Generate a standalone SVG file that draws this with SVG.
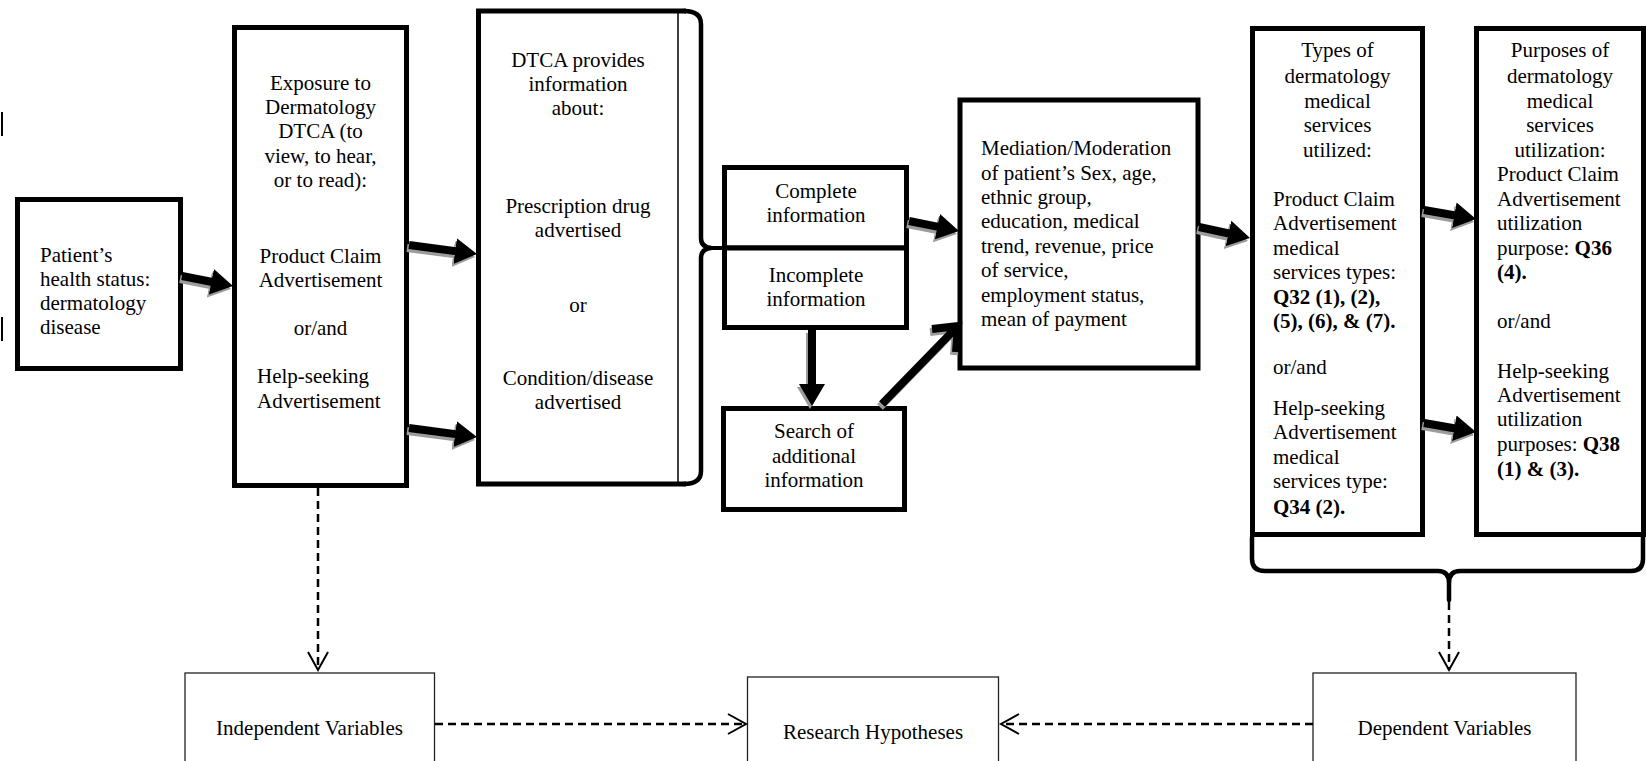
<svg xmlns="http://www.w3.org/2000/svg" width="1646" height="761" viewBox="0 0 1646 761">
<style>
.box{fill:#fff;stroke:#000;stroke-width:5}
.thin{fill:#fff;stroke:#222;stroke-width:1.3}
text{font-family:"Liberation Serif","Times New Roman",serif;font-size:21px;fill:#000}
.c{text-anchor:middle}
.b{font-weight:bold}
.arr{stroke:#000;stroke-width:8;fill:none;marker-end:url(#head)}
.sh{stroke:#9c9c9c;stroke-width:8;fill:none;marker-end:url(#headg)}
.dash{stroke:#000;stroke-width:2.5;fill:none;stroke-dasharray:8 5;marker-end:url(#open)}
.brk{stroke:#000;stroke-width:4.5;fill:none;stroke-linecap:round;stroke-linejoin:round}
</style>
<defs>
<marker id="head" markerUnits="userSpaceOnUse" markerWidth="22" markerHeight="26" viewBox="0 0 22 26" refX="10" refY="13" orient="auto"><path d="M0,0 L22,13 L0,26 z" fill="#000"/></marker>
<marker id="headg" markerUnits="userSpaceOnUse" markerWidth="22" markerHeight="26" viewBox="0 0 22 26" refX="10" refY="13" orient="auto"><path d="M0,0 L22,13 L0,26 z" fill="#9c9c9c"/></marker>
<marker id="open" markerUnits="userSpaceOnUse" markerWidth="24" markerHeight="28" viewBox="-3 -3 24 28" refX="18" refY="10" orient="auto"><path d="M0,0 L18,10 L0,20" fill="none" stroke="#000" stroke-width="2"/></marker>
</defs>

<g id="stray-marks">
<line x1="2" y1="112" x2="2" y2="136" stroke="#000" stroke-width="2"/>
<line x1="2" y1="317" x2="2" y2="341" stroke="#000" stroke-width="2"/>
</g>

<g id="patient">
<rect class="box" x="17.5" y="199.5" width="163" height="169"/>
<text x="40" y="262">Patient’s</text>
<text x="40" y="286">health status:</text>
<text x="40" y="310">dermatology</text>
<text x="40" y="334">disease</text>
</g>

<g id="exposure">
<rect class="box" x="234.5" y="27.5" width="172" height="458"/>
<text class="c" x="320.5" y="90">Exposure to</text>
<text class="c" x="320.5" y="114">Dermatology</text>
<text class="c" x="320.5" y="138">DTCA (to</text>
<text class="c" x="320.5" y="163">view, to hear,</text>
<text class="c" x="320.5" y="187">or to read):</text>
<text class="c" x="320.5" y="263">Product Claim</text>
<text class="c" x="320.5" y="287">Advertisement</text>
<text class="c" x="320.5" y="335">or/and</text>
<text x="257" y="383">Help-seeking</text>
<text x="257" y="408">Advertisement</text>
</g>

<g id="dtca">
<rect x="478.5" y="11" width="200" height="473" fill="#fff" stroke="none"/>
<path d="M686,11 L478.5,11 L478.5,484 L686,484" fill="none" stroke="#000" stroke-width="5"/>
<line x1="678" y1="11" x2="678" y2="484" stroke="#000" stroke-width="1.5"/>
<path class="brk" d="M684,11 Q701,11 701,24 L701,238 Q701,247 711,248 Q701,249 701,258 L701,471 Q701,484 684,484"/>
<line x1="704" y1="248" x2="726" y2="248" stroke="#000" stroke-width="4"/>
<text class="c" x="578" y="67">DTCA provides</text>
<text class="c" x="578" y="91">information</text>
<text class="c" x="578" y="115">about:</text>
<text class="c" x="578" y="213">Prescription drug</text>
<text class="c" x="578" y="237">advertised</text>
<text class="c" x="578" y="312">or</text>
<text class="c" x="578" y="385">Condition/disease</text>
<text class="c" x="578" y="409">advertised</text>
</g>

<g id="complete">
<rect class="box" x="724.5" y="167.5" width="182" height="80.5"/>
<text class="c" x="816" y="198">Complete</text>
<text class="c" x="816" y="222">information</text>
</g>

<g id="incomplete">
<rect class="box" x="724.5" y="248" width="182" height="79.5"/>
<text class="c" x="816" y="282">Incomplete</text>
<text class="c" x="816" y="306">information</text>
</g>

<g id="search">
<rect class="box" x="723.5" y="408.5" width="181" height="101"/>
<text class="c" x="814" y="438">Search of</text>
<text class="c" x="814" y="463">additional</text>
<text class="c" x="814" y="487">information</text>
</g>

<g id="mediation">
<rect class="box" x="960" y="100" width="238" height="268"/>
<text x="981" y="155">Mediation/Moderation</text>
<text x="981" y="180">of patient’s Sex, age,</text>
<text x="981" y="204">ethnic group,</text>
<text x="981" y="228">education, medical</text>
<text x="981" y="253">trend, revenue, price</text>
<text x="981" y="277">of service,</text>
<text x="981" y="302">employment status,</text>
<text x="981" y="326">mean of payment</text>
</g>

<g id="types">
<rect class="box" x="1252.5" y="28.5" width="170" height="506"/>
<text class="c" x="1337.5" y="57">Types of</text>
<text class="c" x="1337.5" y="83">dermatology</text>
<text class="c" x="1337.5" y="108">medical</text>
<text class="c" x="1337.5" y="132">services</text>
<text class="c" x="1337.5" y="157">utilized:</text>
<text x="1273" y="206">Product Claim</text>
<text x="1273" y="230">Advertisement</text>
<text x="1273" y="255">medical</text>
<text x="1273" y="279">services types:</text>
<text x="1273" y="304" class="b">Q32 (1), (2),</text>
<text x="1273" y="328" class="b">(5), (6), &amp; (7).</text>
<text x="1273" y="374">or/and</text>
<text x="1273" y="415">Help-seeking</text>
<text x="1273" y="439">Advertisement</text>
<text x="1273" y="464">medical</text>
<text x="1273" y="488">services type:</text>
<text x="1273" y="514" class="b">Q34 (2).</text>
</g>

<g id="purposes">
<rect class="box" x="1476.5" y="28.5" width="167" height="506"/>
<text class="c" x="1560" y="57">Purposes of</text>
<text class="c" x="1560" y="83">dermatology</text>
<text class="c" x="1560" y="108">medical</text>
<text class="c" x="1560" y="132">services</text>
<text class="c" x="1560" y="157">utilization:</text>
<text x="1497" y="181">Product Claim</text>
<text x="1497" y="206">Advertisement</text>
<text x="1497" y="230">utilization</text>
<text x="1497" y="255">purpose: <tspan class="b">Q36</tspan></text>
<text x="1497" y="279" class="b">(4).</text>
<text x="1497" y="328">or/and</text>
<text x="1497" y="378">Help-seeking</text>
<text x="1497" y="402">Advertisement</text>
<text x="1497" y="426">utilization</text>
<text x="1497" y="451">purposes: <tspan class="b">Q38</tspan></text>
<text x="1497" y="476" class="b">(1) &amp; (3).</text>
</g>

<g id="dv-bracket">
<path class="brk" d="M1252,537 L1252,559 Q1252,571 1265,571 L1438,571 Q1449,571 1449,583 L1449,600 M1449,583 Q1449,571 1460,571 L1631,571 Q1643,571 1643,559 L1643,537"/>
</g>

<g id="independent">
<rect class="thin" x="185" y="673" width="249.5" height="100"/>
<text class="c" x="309.5" y="735">Independent Variables</text>
</g>

<g id="hypotheses">
<rect class="thin" x="747.5" y="677" width="251" height="100"/>
<text class="c" x="873" y="739">Research Hypotheses</text>
</g>

<g id="dependent">
<rect class="thin" x="1313" y="673" width="263" height="100"/>
<text class="c" x="1444.5" y="735">Dependent Variables</text>
</g>

<g id="connectors">
<g transform="translate(-2,3)">
<line class="sh" x1="182" y1="276" x2="221.2" y2="283.7"/>
<line class="sh" x1="409" y1="245" x2="465.1" y2="252.4"/>
<line class="sh" x1="409" y1="428" x2="465.1" y2="435.4"/>
<line class="sh" x1="909" y1="221" x2="947.2" y2="228.6"/>
<line class="sh" x1="812" y1="330" x2="812" y2="394"/>
<path d="M882,404 L955,329 M932,329 L958,326 L956,352" fill="none" stroke="#9c9c9c" stroke-width="8"/>
<line class="sh" x1="1199" y1="227" x2="1238.3" y2="235.5"/>
<line class="sh" x1="1424" y1="210" x2="1464.2" y2="217"/>
<line class="sh" x1="1424" y1="423" x2="1464.2" y2="430"/>
</g>
<line class="arr" x1="182" y1="276" x2="221.2" y2="283.7"/>
<line class="arr" x1="409" y1="245" x2="465.1" y2="252.4"/>
<line class="arr" x1="409" y1="428" x2="465.1" y2="435.4"/>
<line class="arr" x1="909" y1="221" x2="947.2" y2="228.6"/>
<line class="arr" x1="812" y1="330" x2="812" y2="394"/>
<path d="M882,404 L955,329 M932,329 L958,326 L956,352" fill="none" stroke="#000" stroke-width="8"/>
<line class="arr" x1="1199" y1="227" x2="1238.3" y2="235.5"/>
<line class="arr" x1="1424" y1="210" x2="1464.2" y2="217"/>
<line class="arr" x1="1424" y1="423" x2="1464.2" y2="430"/>
<line class="dash" x1="318" y1="488" x2="318" y2="670"/>
<line class="dash" x1="435" y1="724" x2="746" y2="724"/>
<line class="dash" x1="1313" y1="724" x2="1001" y2="724"/>
<line class="dash" x1="1449" y1="602" x2="1449" y2="670"/>
</g>
</svg>
